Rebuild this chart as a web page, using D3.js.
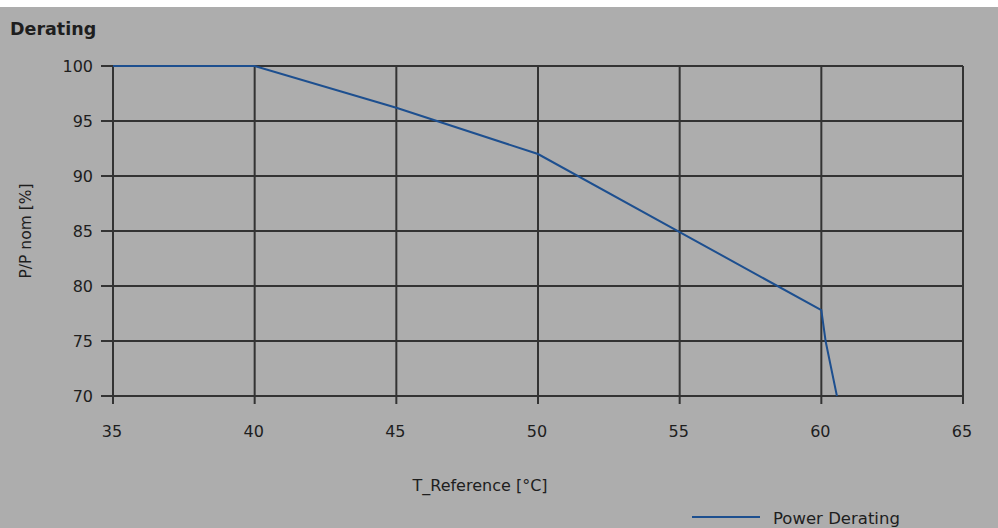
<!DOCTYPE html>
<html>
<head>
<meta charset="utf-8">
<script src="https://cdn.jsdelivr.net/npm/d3@7"></script>
<style>
    html, body { margin: 0; padding: 0; background: #fff; }
    svg { display: block; }
    text { font-family: "DejaVu Sans", sans-serif; fill: #1e1e1e; }
</style>
</head>
<body>
<div id="chart"></div>
<script>
// temperature (°C) and relative power (%)
const temps = [35, 40, 45, 50, 55, 60, 60.15, 60.55];
const power = [100, 100, 96.2, 92.0, 84.9, 77.8, 75, 70];
const xTicks = [35, 40, 45, 50, 55, 60, 65];
const yTicks = [70, 75, 80, 85, 90, 95, 100];

const width = 998;
const height = 528;
const margin = { top: 66, right: 35, bottom: 132, left: 113 };

const svg = d3.select('#chart')
    .append('svg')
    .attr('width', width)
    .attr('height', height);

svg.append('rect')
    .attr('x', 0)
    .attr('y', 7)
    .attr('width', width)
    .attr('height', height - 7)
    .attr('fill', '#adadad');

const x = d3.scaleLinear().domain([35, 65]).range([margin.left, width - margin.right]);
const y = d3.scaleLinear().domain([70, 100]).range([height - margin.bottom, margin.top]);

const gridColor = '#333';

// vertical grid + bottom ticks
svg.append('g')
    .selectAll('line')
    .data(xTicks)
    .enter()
    .append('line')
    .attr('x1', d => x(d))
    .attr('x2', d => x(d))
    .attr('y1', y(100))
    .attr('y2', y(70) + 8)
    .attr('stroke', gridColor)
    .attr('stroke-width', 2);

// horizontal grid + left ticks
svg.append('g')
    .selectAll('line')
    .data(yTicks)
    .enter()
    .append('line')
    .attr('x1', x(35) - 12)
    .attr('x2', x(65))
    .attr('y1', d => y(d))
    .attr('y2', d => y(d))
    .attr('stroke', gridColor)
    .attr('stroke-width', 2);

svg.append('g')
    .selectAll('text')
    .data(xTicks)
    .enter()
    .append('text')
    .attr('x', d => x(d) - 1)
    .attr('y', y(70) + 41)
    .attr('text-anchor', 'middle')
    .style('font-size', '16px')
    .text(d => d);

svg.append('g')
    .selectAll('text')
    .data(yTicks)
    .enter()
    .append('text')
    .attr('x', x(35) - 20)
    .attr('y', d => y(d) + 6)
    .attr('text-anchor', 'end')
    .style('font-size', '16px')
    .text(d => d);

const line = d3.line()
    .x((d, i) => x(temps[i]))
    .y(d => y(d));

svg.append('path')
    .datum(power)
    .attr('d', line)
    .attr('fill', 'none')
    .attr('stroke', '#1d4f8f')
    .attr('stroke-width', 2);

svg.append('text')
    .attr('x', 10)
    .attr('y', 35)
    .style('font-size', '17.5px')
    .style('font-weight', 'bold')
    .text('Derating');

svg.append('text')
    .attr('x', 480)
    .attr('y', 491)
    .attr('text-anchor', 'middle')
    .style('font-size', '16px')
    .text('T_Reference [°C]');

svg.append('text')
    .attr('transform', 'translate(31,' + ((y(70) + y(100)) / 2) + ') rotate(-90)')
    .attr('text-anchor', 'middle')
    .style('font-size', '15.5px')
    .text('P/P nom [%]');

// legend
svg.append('line')
    .attr('x1', 692)
    .attr('x2', 760)
    .attr('y1', 517)
    .attr('y2', 517)
    .attr('stroke', '#1d4f8f')
    .attr('stroke-width', 2);

svg.append('text')
    .attr('x', 773)
    .attr('y', 524)
    .style('font-size', '16.5px')
    .text('Power Derating');
</script>
</body>
</html>
